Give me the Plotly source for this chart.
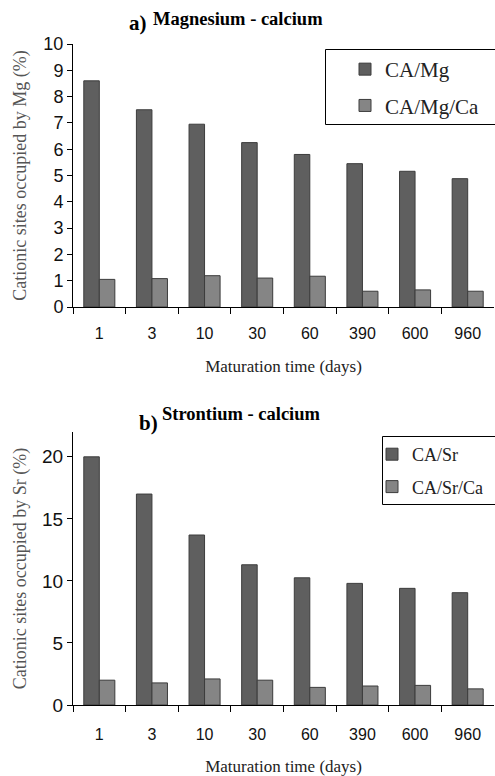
import plotly.graph_objects as go

days = ["1", "3", "10", "30", "60", "390", "600", "960"]
ca_mg = [8.6, 7.5, 6.95, 6.25, 5.8, 5.45, 5.16, 4.88]
ca_mg_ca = [1.05, 1.08, 1.19, 1.1, 1.17, 0.6, 0.65, 0.6]
ca_sr = [20.0, 17.0, 13.7, 11.3, 10.25, 9.8, 9.4, 9.05]
ca_sr_ca = [2.0, 1.78, 2.1, 2.0, 1.42, 1.53, 1.58, 1.3]

W, H = 495, 776
DARK = "#5f5f5f"
LIGHT = "#858585"
EDGE = "#3c3c3c"
SERIF = "Liberation Serif, Times New Roman, serif"
SANS = "Liberation Sans, Arial, sans-serif"

def px_x(v):
    return v / W

def px_y(v):
    return 1 - v / H

fig = go.Figure()
fig.add_bar(x=days, y=ca_mg, name="CA/Mg", marker=dict(color=DARK, line=dict(color=EDGE, width=1)),
            xaxis="x", yaxis="y", legend="legend", legendgroup="a1")
fig.add_bar(x=days, y=ca_mg_ca, name="CA/Mg/Ca", marker=dict(color=LIGHT, line=dict(color=EDGE, width=1)),
            xaxis="x", yaxis="y", legend="legend", legendgroup="a2")
fig.add_bar(x=days, y=ca_sr, name="CA/Sr", marker=dict(color=DARK, line=dict(color=EDGE, width=1)),
            xaxis="x2", yaxis="y2", legend="legend2", legendgroup="b1")
fig.add_bar(x=days, y=ca_sr_ca, name="CA/Sr/Ca", marker=dict(color=LIGHT, line=dict(color=EDGE, width=1)),
            xaxis="x2", yaxis="y2", legend="legend2", legendgroup="b2")

xcommon = dict(
    type="category", showline=True, linecolor="black", linewidth=1,
    ticks="outside", tickson="boundaries", ticklen=6, tickcolor="black",
    tickfont=dict(family=SANS, size=16, color="#111"), showgrid=False, zeroline=False,
    domain=[px_x(73), px_x(494)], automargin=False,
)
ycommon = dict(
    showline=True, linecolor="black", linewidth=1, ticks="outside", ticklen=5,
    tickcolor="black", showgrid=False, zeroline=False, automargin=False,
)

fig.update_layout(
    width=W, height=H, margin=dict(l=0, r=0, t=0, b=0, autoexpand=False),
    paper_bgcolor="white", plot_bgcolor="white",
    barmode="group", bargap=0.41, bargroupgap=0,
    xaxis=dict(**xcommon, anchor="y", ticklabelstandoff=12,
               title=dict(text="Maturation time (days)", font=dict(family=SERIF, size=17, color="#222"), standoff=18)),
    yaxis=dict(**ycommon, domain=[px_y(307), px_y(44)], range=[0, 10], dtick=1, anchor="x",
               tickfont=dict(family=SANS, size=18, color="#111"),
               title=dict(text="Cationic sites occupied by Mg (%)", font=dict(family=SERIF, size=18, color="#555"), standoff=12)),
    xaxis2=dict(**xcommon, anchor="y2", ticklabelstandoff=15,
                title=dict(text="Maturation time (days)", font=dict(family=SERIF, size=17, color="#222"), standoff=19)),
    yaxis2=dict(**ycommon, domain=[px_y(705), px_y(432)], range=[0, 22], tickvals=[0, 5, 10, 15, 20], anchor="x2",
                tickfont=dict(family=SANS, size=19, color="#111"),
                title=dict(text="Cationic sites occupied by Sr (%)", font=dict(family=SERIF, size=18, color="#555"), standoff=10)),
    legend=dict(x=px_x(325), y=px_y(49), xanchor="left", yanchor="top",
                borderwidth=0, bgcolor="rgba(0,0,0,0)",
                font=dict(family=SERIF, size=21, color="#222"), traceorder="grouped",
                tracegroupgap=6, itemwidth=30, indentation=20),
    legend2=dict(x=px_x(382), y=px_y(436), xanchor="left", yanchor="top",
                 borderwidth=0, bgcolor="rgba(0,0,0,0)",
                 font=dict(family=SERIF, size=18, color="#222"), traceorder="grouped",
                 tracegroupgap=6, itemwidth=30, indentation=-10),
    showlegend=True,
    shapes=[
        dict(type="rect", xref="paper", yref="paper", x0=px_x(325.5), x1=px_x(520),
             y0=px_y(124.5), y1=px_y(49.5), line=dict(color="black", width=1), fillcolor="rgba(0,0,0,0)"),
        dict(type="rect", xref="paper", yref="paper", x0=px_x(382.5), x1=px_x(520),
             y0=px_y(504.5), y1=px_y(436.5), line=dict(color="black", width=1), fillcolor="rgba(0,0,0,0)"),
    ],
    annotations=[
        dict(text="<b>a)</b>", x=px_x(127), y=px_y(23), xref="paper", yref="paper",
             xanchor="left", yanchor="middle", showarrow=False,
             font=dict(family=SERIF, size=21, color="black")),
        dict(text="<b>Magnesium - calcium</b>", x=px_x(151), y=px_y(19), xref="paper", yref="paper",
             xanchor="left", yanchor="middle", showarrow=False,
             font=dict(family=SERIF, size=18.5, color="black")),
        dict(text="<b>b)</b>", x=px_x(137), y=px_y(423), xref="paper", yref="paper",
             xanchor="left", yanchor="middle", showarrow=False,
             font=dict(family=SERIF, size=21, color="black")),
        dict(text="<b>Strontium - calcium</b>", x=px_x(160), y=px_y(414), xref="paper", yref="paper",
             xanchor="left", yanchor="middle", showarrow=False,
             font=dict(family=SERIF, size=18.5, color="black")),
    ],
)

fig.write_html("out.html", config={"displayModeBar": False},
               post_script="document.body.style.margin='0';document.body.style.overflow='hidden';")
